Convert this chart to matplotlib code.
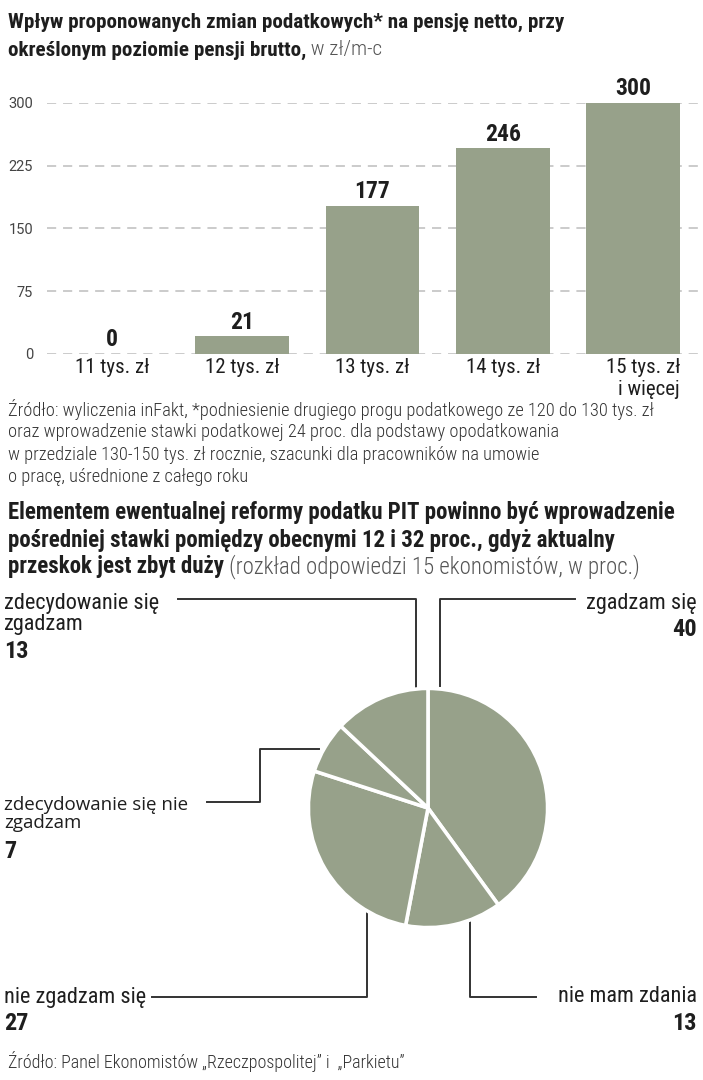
import matplotlib
matplotlib.use('Agg')
import matplotlib.pyplot as plt
from matplotlib import font_manager as fm
import numpy as np

# waski krój jak w oryginale - bierzemy pierwszy dostepny
dostepne = set(f.name for f in fm.fontManager.ttflist)
kandydaci = ['Roboto Condensed', 'Archivo Narrow', 'PT Sans Narrow', 'Fira Sans Condensed',
             'Barlow Condensed', 'Liberation Sans Narrow', 'DejaVu Sans']
WASKI = next(f for f in kandydaci if f in dostepne)
plt.rcParams['font.family'] = [WASKI, 'DejaVu Sans']

# --- dane: wykres slupkowy ---
kategorie = ['11 tys. zł', '12 tys. zł', '13 tys. zł', '14 tys. zł', '15 tys. zł\ni więcej']
wartosci = [0, 21, 177, 246, 300]
ticki_y = [0, 75, 150, 225, 300]

# --- dane: wykres kolowy ---
odpowiedzi = ['zgadzam się', 'nie mam zdania', 'nie zgadzam się',
              'zdecydowanie się nie\nzgadzam', 'zdecydowanie się\nzgadzam']
udzialy = [40, 13, 27, 7, 13]

W, H = 703, 1080
KOLOR = '#97a18a'
TXT = '#1e1e1e'

fig = plt.figure(figsize=(W / 100, H / 100), dpi=100)
fig.patch.set_facecolor('white')

def px_axes(x0, y0, x1, y1):
    # prostokat w pikselach (gora-lewo) -> wspolrzedne figury
    return fig.add_axes([x0 / W, 1 - y1 / H, (x1 - x0) / W, (y1 - y0) / H])

# nakladka na teksty i linie odnosnikow
ov = fig.add_axes([0, 0, 1, 1])
ov.set_xlim(0, W)
ov.set_ylim(H, 0)
ov.axis('off')

# tytul 1
ov.text(8, 22, 'Wpływ proponowanych zmian podatkowych* na pensję netto, przy',
        fontsize=15.2, fontweight='bold', color=TXT, va='center')
t = ov.text(8, 50, 'określonym poziomie pensji brutto,',
            fontsize=15.2, fontweight='bold', color=TXT, va='center')
ov.annotate(' w zł/m-c', xycoords=t, xy=(1, 0.5), va='center', fontsize=15.2,
            color='#555555', fontweight='light')

# --- wykres slupkowy ---
szer = 0.72
ax = px_axes(47, 103, 700, 354)
x = np.arange(len(wartosci))
ax.bar(x, wartosci, width=szer, color=KOLOR, zorder=2)
ax.set_xlim(-0.499, 4.514)
ax.set_ylim(0, 300)
for v in ticki_y:
    ax.axhline(v, color='#bdbdbd', lw=1.1, ls=(0, (6, 4.5)), zorder=1)
for s in ax.spines.values():
    s.set_visible(False)
ax.set_yticks(ticki_y)
ax.set_yticklabels([str(v) for v in ticki_y], fontsize=10.5, color='#444444',
                   family=['Roboto', 'DejaVu Sans'])
ax.tick_params(axis='y', length=0, pad=10)
ax.set_xticks([])
for i, (xi, kat) in enumerate(zip(x, kategorie)):
    ostatni = i == len(kategorie) - 1
    ax.annotate(kat, xy=(xi + (szer / 2 if ostatni else 0), 0),
                xycoords=('data', 'axes fraction'), xytext=(0, -3),
                textcoords='offset points', ha='right' if ostatni else 'center',
                multialignment='right' if ostatni else 'center',
                va='top', fontsize=15, color=TXT, linespacing=1.2)
for xi, v in zip(x, wartosci):
    ax.text(xi, v + 3, str(v), ha='center', va='bottom', fontsize=17,
            fontweight='bold', color=TXT)

# przypis 1
przypis = ['Źródło: wyliczenia inFakt, *podniesienie drugiego progu podatkowego ze 120 do 130 tys. zł',
           'oraz wprowadzenie stawki podatkowej 24 proc. dla podstawy opodatkowania',
           'w przedziale 130-150 tys. zł rocznie, szacunki dla pracowników na umowie',
           'o pracę, uśrednione z całego roku']
for i, line in enumerate(przypis):
    ov.text(8, 410 + i * 22.3, line, fontsize=13.2, color='#333333', va='center',
            fontweight='light')

# tytul 2
ov.text(8, 512, 'Elementem ewentualnej reformy podatku PIT powinno być wprowadzenie',
        fontsize=16.5, fontweight='bold', color=TXT, va='center')
ov.text(8, 540, 'pośredniej stawki pomiędzy obecnymi 12 i 32 proc., gdyż aktualny',
        fontsize=16.5, fontweight='bold', color=TXT, va='center')
t2 = ov.text(8, 567, 'przeskok jest zbyt duży',
             fontsize=16.5, fontweight='bold', color=TXT, va='center')
ov.annotate(' (rozkład odpowiedzi 15 ekonomistów, w proc.)', xycoords=t2, xy=(1, 0.5),
            va='center', fontsize=16.5, color='#555555', fontweight='light')

# --- wykres kolowy ---
cx, cy, r = 428, 808, 122
axp = px_axes(cx - r, cy - r, cx + r, cy + r)
axp.pie(udzialy, startangle=90, counterclock=False, colors=[KOLOR] * len(udzialy),
        radius=1.0, wedgeprops=dict(edgecolor='white', linewidth=2.6))
axp.set_xlim(-1.02, 1.02)
axp.set_ylim(-1.02, 1.02)
axp.set_aspect('equal')
axp.axis('off')

# odnosniki (pozycje w pikselach)
lk = dict(color='#333333', lw=1.4)
ov.plot([440, 440, 575], [686, 599, 599], **lk)
ov.plot([416, 416, 178], [688, 599, 599], **lk)
ov.plot([319, 260, 260, 207], [749, 749, 802, 802], **lk)
ov.plot([367, 367, 152], [907, 997, 997], **lk)
ov.plot([470, 470, 536], [920, 997, 997], **lk)

# etykiety
etyk = dict(fontsize=16, color=TXT, va='center')
liczba = dict(fontsize=17.5, fontweight='bold', color=TXT, va='center')
ov.text(697, 603, odpowiedzi[0], ha='right', **etyk)
ov.text(697, 630, str(udzialy[0]), ha='right', **liczba)
ov.text(4, 614, odpowiedzi[4], ha='left', linespacing=1.0, **etyk)
ov.text(4, 652, str(udzialy[4]), ha='left', **liczba)
ov.text(4, 814, odpowiedzi[3], ha='left', linespacing=1.0,
        family=['Open Sans', 'DejaVu Sans'], fontsize=13.5, color=TXT, va='center')
ov.text(4, 852, str(udzialy[3]), ha='left', **liczba)
ov.text(4, 997, odpowiedzi[2], ha='left', **etyk)
ov.text(4, 1024, str(udzialy[2]), ha='left', **liczba)
ov.text(697, 997, odpowiedzi[1], ha='right', **etyk)
ov.text(697, 1024, str(udzialy[1]), ha='right', **liczba)

ov.text(8, 1061, 'Źródło: Panel Ekonomistów „Rzeczpospolitej” i  „Parkietu”',
        fontsize=13, color='#333333', va='center', fontweight='light')

fig.savefig('out.png', dpi=100, facecolor='white')
